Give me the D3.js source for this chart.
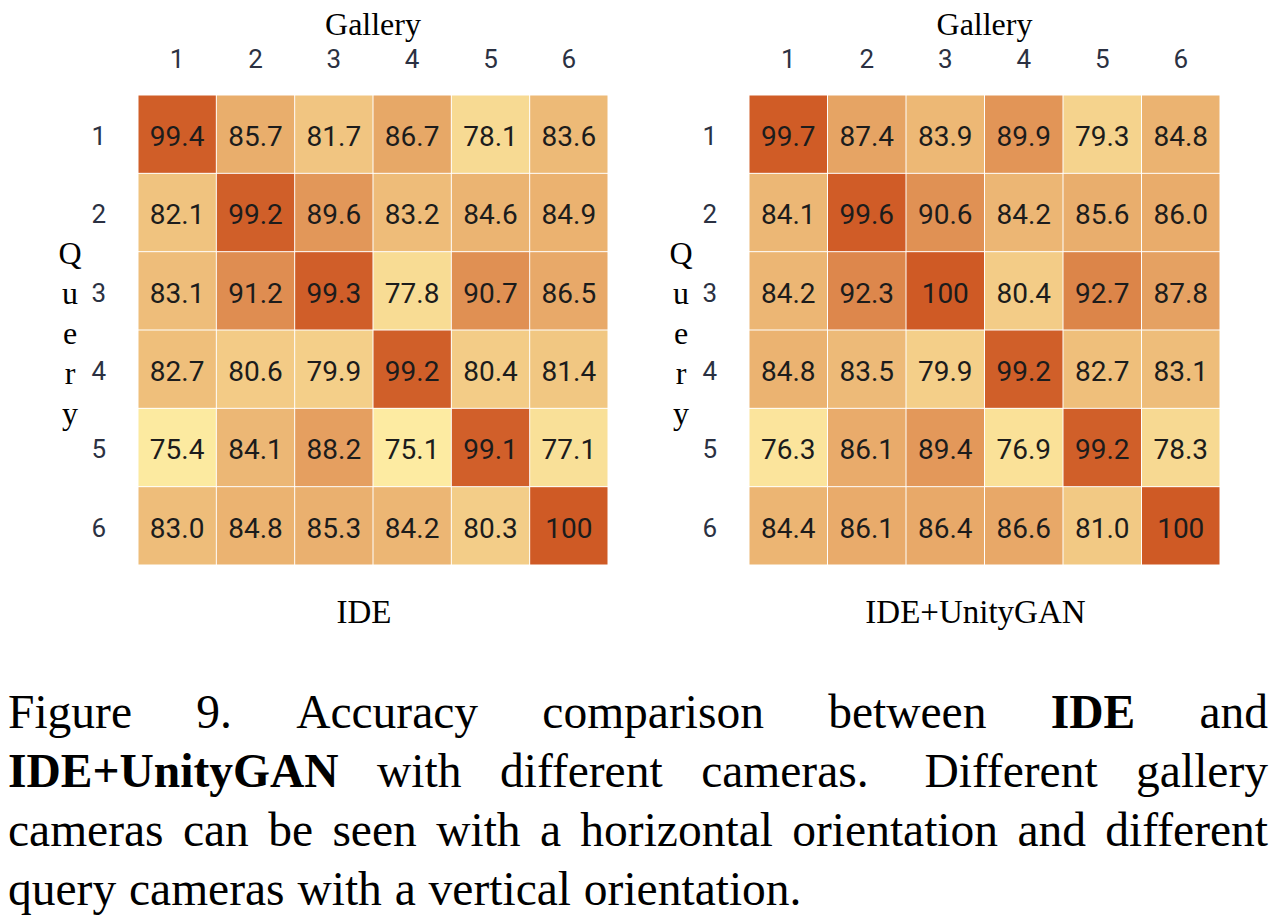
<!DOCTYPE html>
<html>
<head>
<meta charset="utf-8">
<script src="https://cdn.jsdelivr.net/npm/d3@7"></script>
<style>
	body { margin: 0; background: #fff; }
	.tick text { font-family: Roboto, "Liberation Sans", sans-serif; font-size: 26px; fill: #2b3142; }
	.cell-label { font-family: Roboto, "Liberation Sans", sans-serif; font-size: 28px; fill: #1c1c1c; }
	.serif { font-family: "Liberation Serif", "Times New Roman", serif; fill: #000; }
</style>
</head>
<body>
<svg id="fig" width="1280" height="918"></svg>
<script>
// cameras (gallery on x, query on y)
const cams = ["1", "2", "3", "4", "5", "6"];

// IDE accuracy, rows = query camera, columns = gallery camera
const ideValues = [
	[99.4, 85.7, 81.7, 86.7, 78.1, 83.6],
	[82.1, 99.2, 89.6, 83.2, 84.6, 84.9],
	[83.1, 91.2, 99.3, 77.8, 90.7, 86.5],
	[82.7, 80.6, 79.9, 99.2, 80.4, 81.4],
	[75.4, 84.1, 88.2, 75.1, 99.1, 77.1],
	[83.0, 84.8, 85.3, 84.2, 80.3, 100]
];

// IDE+UnityGAN accuracy
const unityValues = [
	[99.7, 87.4, 83.9, 89.9, 79.3, 84.8],
	[84.1, 99.6, 90.6, 84.2, 85.6, 86.0],
	[84.2, 92.3, 100, 80.4, 92.7, 87.8],
	[84.8, 83.5, 79.9, 99.2, 82.7, 83.1],
	[76.3, 86.1, 89.4, 76.9, 99.2, 78.3],
	[84.4, 86.1, 86.4, 86.6, 81.0, 100]
];

const panelTitles = ["IDE", "IDE+UnityGAN"];
const galleryTitle = "Gallery";
const queryTitle = "Query";

// caption, one string per printed line; *word = bold, double space = wider gap
const captionLines = [
	"Figure 9. Accuracy comparison between *IDE and",
	"*IDE+UnityGAN with different cameras.  Different gallery",
	"cameras can be seen with a horizontal orientation and different",
	"query cameras with a vertical orientation."
];

let svg = d3.select("#fig");

let color = d3.scaleLinear()
	.domain([75, 100])
	.range(["#fdeca2", "#cf5a25"])
	.clamp(true);

let fmt = (v) => v === 100 ? "100" : d3.format(".1f")(v);

let panels = [
	{values: ideValues, x0: 138, x1: 608, title: panelTitles[0]},
	{values: unityValues, x0: 749, x1: 1220, title: panelTitles[1]}
];

let gridTop = 95, gridBottom = 565;

panels.forEach(function(p) {
	let x = d3.scaleBand().domain(cams).range([p.x0, p.x1]);
	let y = d3.scaleBand().domain(cams).range([gridTop, gridBottom]);

	let cells = [];
	p.values.forEach(function(row, i) {
		row.forEach(function(v, j) {
			cells.push({q: cams[i], g: cams[j], v: v});
		});
	});

	let g = svg.append("g");

	g.selectAll("rect.cell")
		.data(cells)
		.enter().append("rect")
		.attr("class", "cell")
		.attr("x", (d) => x(d.g) + 0.5)
		.attr("y", (d) => y(d.q) + 0.5)
		.attr("width", x.bandwidth() - 1)
		.attr("height", y.bandwidth() - 1)
		.style("fill", (d) => color(d.v));

	g.selectAll("text.cell-label")
		.data(cells)
		.enter().append("text")
		.attr("class", "cell-label")
		.attr("x", (d) => x(d.g) + x.bandwidth() / 2)
		.attr("y", (d) => y(d.q) + y.bandwidth() / 2)
		.attr("dy", "0.42em")
		.attr("text-anchor", "middle")
		.text((d) => fmt(d.v));

	let xAxis = g.append("g")
		.attr("transform", "translate(0," + gridTop + ")")
		.call(d3.axisTop(x).tickSize(0).tickPadding(27));
	xAxis.select(".domain").remove();

	let yAxis = g.append("g")
		.attr("transform", "translate(" + p.x0 + ",0)")
		.call(d3.axisLeft(y).tickSize(0).tickPadding(32));
	yAxis.select(".domain").remove();
	yAxis.selectAll("text").attr("dy", "0.42em");

	let cx = (p.x0 + p.x1) / 2;

	g.append("text")
		.attr("class", "serif")
		.attr("x", cx)
		.attr("y", 35)
		.attr("text-anchor", "middle")
		.style("font-size", "32px")
		.text(galleryTitle);

	g.append("text")
		.attr("class", "serif")
		.attr("x", cx - 9)
		.attr("y", 623)
		.attr("text-anchor", "middle")
		.style("font-size", "33px")
		.text(p.title);

	// vertical stacked "Query"
	g.selectAll("text.query")
		.data(queryTitle.split(""))
		.enter().append("text")
		.attr("class", "serif query")
		.attr("x", p.x0 - 68)
		.attr("y", (d, i) => 264 + i * 40)
		.attr("text-anchor", "middle")
		.style("font-size", "32px")
		.text((d) => d);
});

// justified caption
let capLeft = 8, capRight = 1268, capSize = 47.5;
let baselines = [728, 787, 846, 905];

captionLines.forEach(function(line, li) {
	let tokens = line.split(" ");
	let words = [];
	tokens.forEach(function(t) {
		if (t === "") {
			if (words.length) words[words.length - 1].extra += 0.45;
			return;
		}
		let bold = t[0] === "*";
		words.push({text: bold ? t.slice(1) : t, bold: bold, extra: 0});
	});

	let texts = words.map(function(w) {
		let t = svg.append("text")
			.attr("class", "serif")
			.attr("y", baselines[li])
			.style("font-size", capSize + "px")
			.style("font-weight", w.bold ? "bold" : "normal")
			.text(w.text);
		w.width = t.node().getComputedTextLength();
		return t;
	});

	let last = li === captionLines.length - 1;
	let total = d3.sum(words, (w) => w.width);
	let weights = words.slice(0, -1).map((w) => 1 + w.extra);
	let unit = last ? capSize * 0.27 : (capRight - capLeft - total) / d3.sum(weights);

	let cursor = capLeft;
	words.forEach(function(w, i) {
		texts[i].attr("x", cursor);
		cursor += w.width + (i < weights.length ? unit * weights[i] : 0);
	});
});
</script>
</body>
</html>
